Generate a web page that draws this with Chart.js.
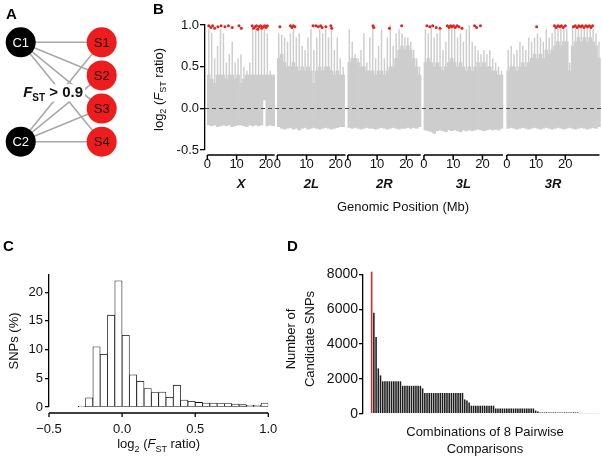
<!DOCTYPE html>
<html>
<head>
<meta charset="utf-8">
<script src="https://cdn.jsdelivr.net/npm/chart.js@4.4.1/dist/chart.umd.min.js"></script>
<style>
html, body { margin: 0; padding: 0; background: #fff; }
#page { position: relative; width: 602px; height: 465px; overflow: hidden; }
#page canvas { position: absolute; left: 0; top: 0; }
.tag { position: absolute; font: bold 15px 'Liberation Sans', Arial, sans-serif; line-height: 15px; color: #000; }
</style>
</head>
<body>
<div id="page">
	<canvas id="chart-a" width="602" height="465"></canvas>
	<canvas id="chart-b" width="602" height="465"></canvas>
	<canvas id="chart-c" width="602" height="465"></canvas>
	<canvas id="chart-d" width="602" height="465"></canvas>
	<div class="tag" style="left:6px;top:6px">A</div>
	<div class="tag" style="left:153px;top:1px">B</div>
	<div class="tag" style="left:3px;top:238px">C</div>
	<div class="tag" style="left:287px;top:238px">D</div>
</div>
<script>
const FONT = "'Liberation Sans', Arial, Helvetica, sans-serif";

// ---- panel A: comparison design
const controls = ['C1', 'C2'];
const controlLevel = [4, 1];
const selected = ['S1', 'S2', 'S3', 'S4'];
const selectedLevel = [4, 3, 2, 1];
const fstCutoff = '0.9';

// ---- panel B: genome scan, 1 Mb bins per chromosome arm
const arms = ['X', '2L', '2R', '3L', '3R'];
const armStart = [0, 23.9, 48.0, 74.0, 102.3];
const armLength = [23.0, 23.3, 24.9, 27.0, 31.7];
const armTicks = [0, 10, 20];

const xLow  = [-0.20,-0.21,-0.20,-0.22,-0.21,-0.20,-0.21,-0.20,-0.22,-0.21,-0.20,-0.20,-0.21,-0.22,-0.20,-0.21,-0.20,-0.21,-0.20,0.10,-0.21,-0.20,-0.21];
const xBody = [0.40,0.35,0.30,0.40,0.40,0.40,0.35,0.40,0.40,0.35,0.40,0.30,0.35,0.40,0.40,0.40,0.40,0.40,0.40,0.40,0.40,0.40,0.40];
const xPeak = [0.95,0.90,0.60,0.75,0.95,0.90,0.55,0.65,0.80,0.55,0.60,0.65,0.50,0.45,0.55,0.95,1.00,1.00,0.95,1.00,0.90,0.45,0.40];

const l2Low  = [-0.22,-0.24,-0.25,-0.24,-0.23,-0.25,-0.24,-0.26,-0.24,-0.23,-0.25,-0.24,-0.23,-0.24,-0.25,-0.24,-0.23,-0.24,-0.25,-0.24,-0.23,-0.22,-0.22];
const l2Body = [0.60,0.65,0.55,0.50,0.50,0.55,0.50,0.45,0.50,0.45,0.50,0.45,0.30,0.45,0.50,0.45,0.50,0.50,0.45,0.40,0.45,0.40,0.40];
const l2Peak = [0.90,0.88,0.85,0.80,0.90,0.95,0.85,0.90,0.75,0.70,0.85,0.95,0.70,0.85,0.95,0.90,0.95,0.85,0.95,0.70,0.85,0.60,0.50];

const r2Low  = [-0.23,-0.24,-0.23,-0.24,-0.25,-0.24,-0.23,-0.24,-0.24,-0.25,-0.24,-0.23,-0.24,-0.25,-0.24,-0.23,-0.24,-0.25,-0.24,-0.24,-0.23,-0.24,-0.23,-0.24,-0.22];
const r2Body = [0.55,0.60,0.60,0.55,0.50,0.50,0.45,0.45,0.45,0.40,0.45,0.45,0.40,0.45,0.50,0.50,0.60,0.70,0.75,0.70,0.75,0.70,0.60,0.50,0.40];
const r2Peak = [0.95,0.80,0.65,0.60,0.70,0.90,0.55,0.85,1.00,0.60,0.75,0.95,0.60,0.85,1.00,0.75,0.90,0.95,0.90,0.85,0.85,0.80,0.70,0.60,0.50];

const l3Low  = [-0.26,-0.27,-0.28,-0.30,-0.27,-0.26,-0.27,-0.28,-0.26,-0.27,-0.26,-0.27,-0.28,-0.26,-0.27,-0.26,-0.27,-0.26,-0.25,-0.26,-0.27,-0.26,-0.25,-0.26,-0.25,-0.26,-0.24];
const l3Body = [0.55,0.60,0.55,0.50,0.55,0.50,0.45,0.50,0.55,0.60,0.55,0.50,0.55,0.50,0.45,0.50,0.45,0.50,0.55,0.50,0.55,0.50,0.50,0.45,0.45,0.40,0.40];
const l3Peak = [0.95,0.90,1.00,0.85,0.90,0.95,0.70,0.80,1.00,1.00,0.95,0.85,0.90,0.80,0.95,1.00,0.80,0.75,0.70,0.65,0.70,0.65,0.70,0.60,0.55,0.50,0.45];

const r3Low  = [-0.24,-0.23,-0.24,-0.25,-0.24,-0.23,-0.24,-0.25,-0.24,-0.23,-0.24,-0.25,-0.24,-0.23,-0.24,-0.25,-0.24,-0.23,-0.24,-0.25,-0.24,-0.23,-0.24,-0.25,-0.24,-0.23,-0.24,-0.25,-0.24,-0.23,-0.24,-0.22];
const r3Body = [0.45,0.50,0.50,0.45,0.50,0.55,0.50,0.55,0.60,0.65,0.60,0.65,0.60,0.70,0.65,0.70,0.75,0.80,0.75,0.80,0.80,0.45,0.75,0.80,0.85,0.80,0.85,0.80,0.85,0.80,0.75,0.60];
const r3Peak = [0.70,0.75,0.65,0.70,0.80,0.75,0.70,0.85,0.80,0.85,0.90,0.85,0.80,0.95,0.85,0.90,1.00,0.95,1.00,0.95,0.95,0.55,1.00,0.95,1.00,1.00,0.95,1.00,1.00,0.95,0.90,0.80];

// candidate SNPs (red): position in arm (Mb) and log2 ratio
const xHitPos  = [0.5,1.2,1.8,2.5,3.6,4.7,6.0,7.2,8.5,10.8,11.6,15.3,15.8,16.3,16.8,17.2,17.7,18.2,18.6,19.1,19.6,20.1,20.5];
const xHitVal  = [0.99,0.97,0.99,0.96,0.98,0.99,0.98,0.99,0.97,0.99,0.96,0.99,0.96,0.98,0.99,0.95,0.98,0.99,0.96,0.98,0.99,0.97,0.99];
const l2HitPos = [0.9,4.5,5.0,5.5,6.0,12.2,13.2,14.0,14.8,15.3,16.6,18.3,18.6];
const l2HitVal = [0.98,0.99,0.97,0.99,0.98,0.99,0.99,0.98,0.99,0.97,0.98,0.99,0.96];
const r2HitPos = [8.6,8.9,14.2,18.4];
const r2HitVal = [0.99,0.97,0.96,0.99];
const l3HitPos = [1.0,2.0,3.0,4.2,5.5,8.0,8.6,9.1,9.6,10.1,10.7,11.3,12.0,13.0,17.3,18.0,19.3];
const l3HitVal = [0.99,0.98,0.99,0.97,0.96,0.99,0.97,0.99,0.98,0.99,0.97,0.99,0.98,0.96,0.99,0.97,0.99];
const r3HitPos = [10.2,16.3,16.9,17.5,18.1,18.7,19.3,20.0,22.8,23.4,24.0,24.6,25.2,25.8,26.4,27.0,27.6,28.2,28.8,29.3];
const r3HitVal = [0.98,0.99,0.97,0.99,0.98,0.99,0.97,0.99,0.98,0.99,0.97,0.99,0.98,0.99,0.97,0.99,0.98,0.99,0.97,0.99];

// ---- panel C: histogram of log2(Fst ratio), 0.05 wide bins
const histStart = -0.3;
const histBin = 0.05;
const histPct = [0.05,1.6,10.5,9.2,16.0,22.0,12.5,5.6,4.5,3.2,2.5,2.6,1.7,3.8,1.2,1.0,0.8,0.7,0.7,0.6,0.6,0.5,0.4,0.3,0.3,0.7];

// ---- panel D: candidate SNPs per combination (sorted)
const comboSnps = [
	8150,5800,4400,2600,2200,
	1860,1860,1860,1860,1860,1860,1860,1860,1860,
	1600,1600,1600,1600,1600,1600,1600,1600,1600,
	1450,
	1190,1190,1190,1190,1190,1190,1190,1190,1190,1190,1190,1190,1190,1190,1190,1190,1190,1190,
	820,760,640,
	460,460,460,460,460,460,460,460,460,460,460,
	300,300,300,300,300,300,300,300,300,300,300,300,300,300,300,300,300,300,
	180,120,
	75,75,75,75,75,75,75,75,75,75,75,75,75,75,75,75,75,75,
	25,25,25,25,25,25,25,25,25
];

Chart.defaults.font.family = FONT;
Chart.defaults.font.size = 13;
Chart.defaults.color = '#111';
Chart.defaults.animation = false;

// draws text made of pieces (italic / subscript), centred on x, baseline y
function richText(ctx, parts, x, y, size, opt) {
	opt = opt || {};
	const font = p => (p.i ? 'italic ' : '') + (opt.bold ? 'bold ' : '') + (p.sub ? Math.round(size * 0.68) : size) + 'px ' + FONT;
	ctx.save();
	ctx.translate(x, y);
	if (opt.rotate) ctx.rotate(opt.rotate);
	let w = 0;
	parts.forEach(p => { ctx.font = font(p); w += ctx.measureText(p.t).width; });
	let cx = -w / 2;
	ctx.textAlign = 'left';
	ctx.textBaseline = 'alphabetic';
	if (opt.box) {
		ctx.fillStyle = '#fff';
		ctx.fillRect(cx - 2, -size * 0.85, w + 4, size * 1.15);
	}
	ctx.fillStyle = opt.color || '#111';
	parts.forEach(p => {
		ctx.font = font(p);
		ctx.fillText(p.t, cx, p.sub ? size * 0.28 : 0);
		cx += ctx.measureText(p.t).width;
	});
	ctx.restore();
}
const fstRatioTitle = [{ t: 'log' }, { t: '2', sub: true }, { t: ' (' }, { t: 'F', i: true }, { t: 'ST', sub: true }, { t: ' ratio)' }];

// ---------------- A
const edgeSets = [];
controls.forEach((c, i) => {
	selected.forEach((s, j) => {
		edgeSets.push({
			type: 'line',
			data: [{ x: 0, y: controlLevel[i] }, { x: 1, y: selectedLevel[j] }],
			borderColor: '#a8a8a8',
			borderWidth: 1.6,
			pointRadius: 0,
			clip: false,
			order: 3
		});
	});
});

const nodeLabels = {
	id: 'nodeLabels',
	afterDatasetsDraw(chart) {
		const ctx = chart.ctx;
		const groups = [[controls, 8, '#fff'], [selected, 9, '#1a0505']];
		ctx.save();
		ctx.font = '13px ' + FONT;
		ctx.textAlign = 'center';
		ctx.textBaseline = 'middle';
		groups.forEach(([names, di, col]) => {
			const meta = chart.getDatasetMeta(di);
			names.forEach((n, k) => {
				ctx.fillStyle = col;
				ctx.fillText(n, meta.data[k].x, meta.data[k].y + 1);
			});
		});
		ctx.restore();
		const a = chart.chartArea;
		const yMid = chart.scales.y.getPixelForValue(2.5);
		richText(ctx, [{ t: 'F', i: true }, { t: 'ST', sub: true }, { t: ' > ' + fstCutoff }], a.left + a.width * 0.4, yMid + 5, 15, { bold: true, box: true, color: '#111' });
	}
};

new Chart(document.getElementById('chart-a'), {
	type: 'scatter',
	data: {
		datasets: edgeSets.concat([
			{
				data: controlLevel.map(v => ({ x: 0, y: v })),
				backgroundColor: '#000', borderWidth: 0, pointRadius: 15, pointHoverRadius: 15, clip: false, order: 1
			},
			{
				data: selectedLevel.map(v => ({ x: 1, y: v })),
				backgroundColor: '#ee1c1c', borderWidth: 0, pointRadius: 15, pointHoverRadius: 15, clip: false, order: 1
			}
		])
	},
	options: {
		responsive: false,
		events: [],
		layout: { autoPadding: false, padding: { left: 20.7, top: 42.3, right: 500.3, bottom: 323.3 } },
		plugins: { legend: { display: false }, tooltip: { enabled: false } },
		scales: {
			x: { type: 'linear', display: false, min: 0, max: 1 },
			y: { type: 'linear', display: false, min: 1, max: 4 }
		}
	},
	plugins: [nodeLabels]
});

// ---------------- B
const armLow = [xLow, l2Low, r2Low, l3Low, r3Low];
const armBody = [xBody, l2Body, r2Body, l3Body, r3Body];
const armPeak = [xPeak, l2Peak, r2Peak, l3Peak, r3Peak];
const armHitPos = [xHitPos, l2HitPos, r2HitPos, l3HitPos, r3HitPos];
const armHitVal = [xHitVal, l2HitVal, r2HitVal, l3HitVal, r3HitVal];

const bodyBars = [], peakBars = [], hits = [];
arms.forEach((a, k) => {
	armBody[k].forEach((v, i) => {
		const x = armStart[k] + i + 0.5;
		bodyBars.push({ x: x, y: [armLow[k][i], v] });
		peakBars.push({ x: x, y: [v, armPeak[k][i]] });
	});
	armHitPos[k].forEach((p, i) => hits.push({ x: armStart[k] + p, y: armHitVal[k][i] }));
});

const genomeDecor = {
	id: 'genomeDecor',
	afterDatasetsDraw(chart) {
		const ctx = chart.ctx;
		const a = chart.chartArea;
		const xs = chart.scales.x, ys = chart.scales.y;
		ctx.save();
		// zero line
		ctx.strokeStyle = '#444';
		ctx.lineWidth = 1.2;
		ctx.setLineDash([4, 3]);
		ctx.beginPath();
		const y0 = Math.round(ys.getPixelForValue(0)) + 0.5;
		ctx.moveTo(a.left, y0);
		ctx.lineTo(a.right, y0);
		ctx.stroke();
		ctx.setLineDash([]);
		// arm axis segments
		const ya = a.bottom + 5;
		ctx.strokeStyle = '#000';
		ctx.lineWidth = 1.5;
		arms.forEach((name, k) => {
			ctx.beginPath();
			ctx.moveTo(xs.getPixelForValue(armStart[k]), ya);
			ctx.lineTo(xs.getPixelForValue(armStart[k] + armLength[k]), ya);
			armTicks.forEach(t => {
				const px = xs.getPixelForValue(armStart[k] + t);
				ctx.moveTo(px, ya);
				ctx.lineTo(px, ya + 5);
			});
			ctx.stroke();
			ctx.font = 'italic bold 13px ' + FONT;
			ctx.fillStyle = '#111';
			ctx.textAlign = 'center';
			ctx.fillText(name, xs.getPixelForValue(armStart[k] + armLength[k] / 2), a.bottom + 38);
		});
		ctx.font = '13px ' + FONT;
		ctx.textAlign = 'center';
		ctx.fillText('Genomic Position (Mb)', (a.left + a.right) / 2, a.bottom + 61);
		ctx.restore();
		richText(ctx, fstRatioTitle, a.left - 42.5, (a.top + a.bottom) / 2 + 2, 13, { rotate: -Math.PI / 2 });
	}
};

new Chart(document.getElementById('chart-b'), {
	type: 'bar',
	data: {
		datasets: [
			{
				type: 'scatter', data: hits, backgroundColor: '#e3231b', borderWidth: 0,
				pointRadius: 1.5, clip: false, order: 0
			},
			{
				data: peakBars, backgroundColor: '#cdcdcd', borderWidth: 0,
				barPercentage: 0.5, categoryPercentage: 1, grouped: false, order: 1
			},
			{
				data: bodyBars, backgroundColor: '#cdcdcd', borderWidth: 0,
				barPercentage: 1, categoryPercentage: 1, grouped: false, order: 2
			}
		]
	},
	options: {
		responsive: false,
		events: [],
		layout: { autoPadding: false, padding: { left: 155, top: 25, right: 1, bottom: 285 } },
		plugins: { legend: { display: false }, tooltip: { enabled: false } },
		scales: {
			x: {
				type: 'linear', min: -0.8, max: 134.5, offset: false,
				grid: { display: false, drawTicks: false, offset: false },
				border: { display: false },
				afterFit: s => { s.height = 30; },
				afterBuildTicks: s => {
					const t = [];
					armStart.forEach(st => armTicks.forEach(v => t.push({ value: st + v })));
					s.ticks = t;
				},
				ticks: {
					autoSkip: false, maxRotation: 0, padding: 7, color: '#111',
					callback: v => {
						let k = 0;
						armStart.forEach((st, i) => { if (v >= st - 0.01) k = i; });
						return String(Math.round(v - armStart[k]));
					}
				}
			},
			y: {
				min: -0.5, max: 1.0,
				afterFit: s => { s.width = 50; },
				grid: { drawOnChartArea: false, drawTicks: true, tickLength: 5, color: '#000', lineWidth: 1.3 },
				border: { color: '#000', width: 1.3 },
				ticks: { stepSize: 0.5, padding: 1, color: '#111', callback: v => v.toFixed(1) }
			}
		}
	},
	plugins: [genomeDecor]
});

// ---------------- C
const histDecor = {
	id: 'histDecor',
	afterDraw(chart) {
		const ctx = chart.ctx;
		const a = chart.chartArea;
		const xs = chart.scales.x;
		ctx.save();
		ctx.strokeStyle = '#000';
		ctx.lineWidth = 1.3;
		const ya = a.bottom + 6;
		ctx.beginPath();
		ctx.moveTo(xs.getPixelForValue(xs.min), ya);
		ctx.lineTo(xs.getPixelForValue(xs.max), ya);
		xs.ticks.forEach(t => {
			const px = xs.getPixelForValue(t.value);
			ctx.moveTo(px, ya);
			ctx.lineTo(px, ya + 4);
		});
		ctx.stroke();
		ctx.restore();
		richText(ctx, fstRatioTitle, (a.left + a.right) / 2, a.bottom + 41, 13);
		richText(ctx, [{ t: 'SNPs (%)' }], a.left - 31.5, (a.top + a.bottom) / 2, 13, { rotate: -Math.PI / 2 });
	}
};

new Chart(document.getElementById('chart-c'), {
	type: 'bar',
	data: {
		datasets: [{
			data: histPct.map((v, i) => ({ x: histStart + (i + 0.5) * histBin, y: v })),
			backgroundColor: '#fff',
			borderColor: '#111',
			borderWidth: 0.8,
			borderSkipped: false,
			barPercentage: 1,
			categoryPercentage: 1
		}]
	},
	options: {
		responsive: false,
		events: [],
		layout: { autoPadding: false, padding: { left: 9, top: 275, right: 333.7, bottom: 28 } },
		plugins: { legend: { display: false }, tooltip: { enabled: false } },
		scales: {
			x: {
				type: 'linear', min: -0.5, max: 1.0, offset: false,
				grid: { display: false, drawTicks: false, offset: false },
				border: { display: false },
				afterFit: s => { s.height = 30; },
				ticks: {
					stepSize: 0.5, padding: 15, maxRotation: 0, color: '#111',
					callback: v => (v < 0 ? '\u2212' : '') + Math.abs(v).toFixed(1)
				}
			},
			y: {
				min: 0, max: 23,
				afterFit: s => { s.width = 40; },
				grid: { drawOnChartArea: false, drawTicks: true, tickLength: 4, color: '#000', lineWidth: 1.3 },
				border: { color: '#000', width: 1.3 },
				ticks: { stepSize: 5, includeBounds: false, padding: 2, color: '#111' }
			}
		}
	},
	plugins: [histDecor]
});

// ---------------- D
const comboDecor = {
	id: 'comboDecor',
	afterDraw(chart) {
		const ctx = chart.ctx;
		const a = chart.chartArea;
		const midY = (a.top + a.bottom) / 2 - 5;
		richText(ctx, [{ t: 'Number of' }], a.left - 68, midY, 13, { rotate: -Math.PI / 2 });
		richText(ctx, [{ t: 'Candidate SNPs' }], a.left - 49, midY, 13, { rotate: -Math.PI / 2 });
		const cx = a.left + 122;
		richText(ctx, [{ t: 'Combinations of 8 Pairwise' }], cx, a.bottom + 22.5, 13);
		richText(ctx, [{ t: 'Comparisons' }], cx, a.bottom + 39, 13);
	}
};

new Chart(document.getElementById('chart-d'), {
	type: 'bar',
	data: {
		datasets: [{
			data: comboSnps.map((v, i) => ({ x: i, y: v })),
			backgroundColor: c => c.dataIndex === 0 ? '#d9262b' : (c.raw && c.raw.y < 50 ? '#8a8a8a' : '#1c1c1c'),
			borderWidth: 0,
			barPercentage: 0.7,
			categoryPercentage: 1,
			clip: false
		}]
	},
	options: {
		responsive: false,
		events: [],
		layout: { autoPadding: false, padding: { left: 313, top: 274.3, right: 3, bottom: 51.3 } },
		plugins: { legend: { display: false }, tooltip: { enabled: false } },
		scales: {
			x: { type: 'linear', display: false, min: -3.9, max: 102.6, offset: false, grid: { offset: false } },
			y: {
				min: 0, max: 8000,
				afterFit: s => { s.width = 50; },
				grid: { drawOnChartArea: false, drawTicks: true, tickLength: 4, color: '#000', lineWidth: 1.3 },
				border: { color: '#000', width: 1.3 },
				ticks: { stepSize: 2000, includeBounds: false, padding: 1, color: '#111', font: { size: 14 }, callback: v => String(v) }
			}
		}
	},
	plugins: [comboDecor]
});
</script>
</body>
</html>
